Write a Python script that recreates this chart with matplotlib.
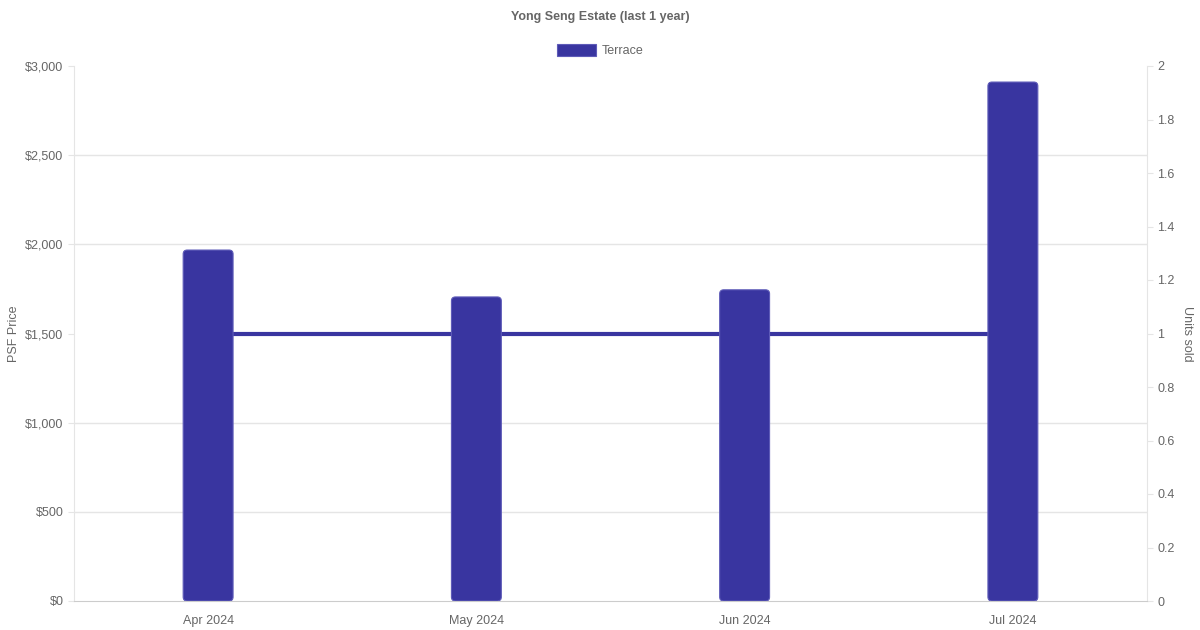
import numpy as np
import matplotlib.pyplot as plt
from matplotlib.patches import FancyBboxPatch
from matplotlib.ticker import FuncFormatter

plt.rcParams['font.family'] = ['Liberation Sans', 'DejaVu Sans']

months = ['Apr 2024', 'May 2024', 'Jun 2024', 'Jul 2024']
psf_price = [1968, 1705, 1745, 2910]
units_sold = [1, 1, 1, 1]
price_ticks = [0, 500, 1000, 1500, 2000, 2500, 3000]
unit_ticks = [0, 0.2, 0.4, 0.6, 0.8, 1, 1.2, 1.4, 1.6, 1.8, 2]

bar_color = '#3935a0'
text_color = '#666666'
grid_color = '#e5e5e5'

fig = plt.figure(figsize=(12, 6.3), dpi=100)
ax = fig.add_axes([74 / 1200, 29 / 630, 1073 / 1200, 535 / 630])
ax2 = ax.twinx()

# bars on the left axis must sit above the line on the right axis
ax.set_zorder(ax2.get_zorder() + 1)
ax.patch.set_visible(False)

x = np.arange(len(months))

# units sold line
ax2.plot(x, units_sold, color=bar_color, lw=3, solid_capstyle='butt', zorder=2)
ax2.set_ylim(0, 2)
ax2.set_yticks(unit_ticks)
ax2.set_yticklabels(['0' if v == 0 else f'{v:g}' for v in unit_ticks])
# horizontal grid for the price axis, drawn below the line
ax2.set_yticks(np.array(price_ticks) / 3000 * 2, minor=True)
ax2.tick_params(axis='y', which='minor', length=0)
ax2.grid(axis='y', which='minor', color=grid_color, lw=1, zorder=0)
ax2.set_ylabel('Units sold', rotation=-90, color=text_color, fontsize=9,
               va='center', ha='center')
ax2.yaxis.set_label_coords(1.0372, 0.5)

# price bars, with rounded corners
bars = ax.bar(x, psf_price, width=0.186, color=bar_color)
ax.set_xlim(-0.5, len(months) - 0.5)
ax.set_ylim(0, 3000)
x_per_px = 1 / 268.25
y_per_px = 3000 / 535
for b in bars:
    bx, by = b.get_x(), b.get_y()
    bw, bh = b.get_width(), b.get_height()
    b.remove()
    p = FancyBboxPatch((bx, by), bw, bh,
                       boxstyle=f'round,pad=0,rounding_size={4 * x_per_px}',
                       mutation_aspect=y_per_px / x_per_px,
                       facecolor=bar_color, edgecolor='#5e5bb8', lw=0.8, zorder=3)
    ax.add_patch(p)

ax.set_xticks(x)
ax.set_xticklabels(months)
ax.set_yticks(price_ticks)
ax.yaxis.set_major_formatter(FuncFormatter(lambda v, p: f'${v:,.0f}'))
ax.set_ylabel('PSF Price', color=text_color, fontsize=9, va='center', ha='center')
ax.yaxis.set_label_coords(-0.0562, 0.5)

for a in (ax, ax2):
    a.tick_params(axis='y', colors=grid_color, labelcolor=text_color, labelsize=9,
                  length=4.3, width=0.8, pad=3.3)
    a.tick_params(axis='x', length=0, labelcolor=text_color, labelsize=9, pad=10)
    for s in a.spines.values():
        s.set_visible(False)

ax.spines['left'].set_visible(True)
ax.spines['left'].set_color(grid_color)
ax2.spines['right'].set_visible(True)
ax2.spines['right'].set_color(grid_color)
ax.spines['bottom'].set_visible(True)
ax.spines['bottom'].set_color('#cccccc')

fig.text(0.5, 1 - 17 / 630, 'Yong Seng Estate (last 1 year)', ha='center', va='center',
         fontsize=9, fontweight='bold', color=text_color)

# legend
fig.patches.append(plt.Rectangle((557 / 1200, 1 - 56 / 630), 39 / 1200, 12 / 630,
                                 transform=fig.transFigure, facecolor=bar_color,
                                 edgecolor='#5e5bb8', lw=0.8))
fig.text(602 / 1200, 1 - 51 / 630, 'Terrace', ha='left', va='center',
         fontsize=9, color=text_color)

fig.savefig('out.png', dpi=100)
